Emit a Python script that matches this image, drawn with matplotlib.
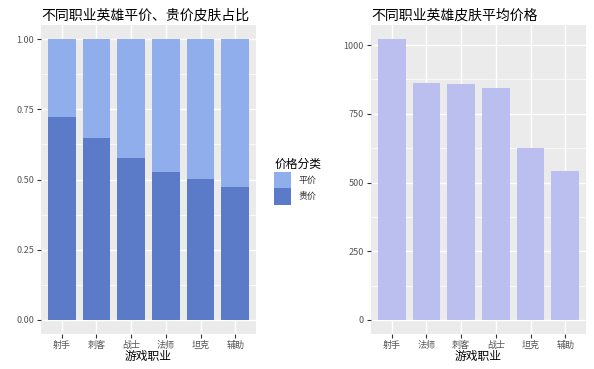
import matplotlib
matplotlib.use("Agg")
import matplotlib.pyplot as plt
from matplotlib.patches import Patch
import numpy as np

plt.rcParams['font.family'] = ['Noto Sans CJK SC', 'DejaVu Sans']

# ---- data ----
roles_left = ["射手", "刺客", "战士", "法师", "坦克", "辅助"]
expensive_share = [0.722, 0.647, 0.578, 0.526, 0.502, 0.473]   # 贵价
cheap_share = [1 - v for v in expensive_share]                  # 平价

roles_right = ["射手", "法师", "刺客", "战士", "坦克", "辅助"]
avg_price = [1022, 862, 860, 843, 625, 541]

title_left = "不同职业英雄平价、贵价皮肤占比"
title_right = "不同职业英雄皮肤平均价格"
xlabel = "游戏职业"
legend_title = "价格分类"
legend_labels = ["平价", "贵价"]

# ---- style ----
W, H = 594, 369
fig = plt.figure(figsize=(W / 100, H / 100), dpi=100)
bg = "#EBEBEB"
c_cheap = "#8FAEEB"
c_exp = "#5B7BC9"
c_right = "#BBBFEF"
tick_col = "#555555"

def px_axes(x0, y0, x1, y1):
    return fig.add_axes([x0 / W, 1 - y1 / H, (x1 - x0) / W, (y1 - y0) / H])

def style(ax):
    ax.set_facecolor(bg)
    for s in ax.spines.values():
        s.set_visible(False)
    ax.grid(True, which="major", color="white", linewidth=1.0)
    ax.grid(True, which="minor", axis="y", color="white", linewidth=0.5)
    ax.set_axisbelow(True)
    ax.tick_params(axis="both", which="major", length=3, width=0.8, color="#333333",
                   labelsize=6.5, labelcolor=tick_col, pad=2)
    ax.tick_params(axis="both", which="minor", length=0)

# left
ax1 = px_axes(41, 25, 256, 334)
style(ax1)
x = np.arange(len(roles_left))
ax1.bar(x, expensive_share, width=0.8, color=c_exp, zorder=2)
ax1.bar(x, cheap_share, bottom=expensive_share, width=0.8, color=c_cheap, zorder=2)
ax1.set_xlim(-0.6, len(roles_left) - 0.4)
ax1.set_ylim(-0.05, 1.05)
ax1.set_xticks(x)
ax1.set_xticklabels(roles_left)
ax1.set_yticks([0, 0.25, 0.5, 0.75, 1.0])
ax1.set_yticklabels(["0.00", "0.25", "0.50", "0.75", "1.00"])
ax1.set_yticks([0.125, 0.375, 0.625, 0.875], minor=True)
ax1.set_xlabel(xlabel, fontsize=8.5, labelpad=0)
ax1.set_title(title_left, fontsize=10, loc="left", pad=4)

# right
ax2 = px_axes(371, 25, 586, 334)
style(ax2)
x2 = np.arange(len(roles_right))
ax2.bar(x2, avg_price, width=0.8, color=c_right, zorder=2)
ax2.set_xlim(-0.6, len(roles_right) - 0.4)
ymax = max(avg_price)
ax2.set_ylim(-0.05 * ymax, 1.05 * ymax)
ax2.set_xticks(x2)
ax2.set_xticklabels(roles_right)
ax2.set_yticks([0, 250, 500, 750, 1000])
ax2.set_yticks([125, 375, 625, 875], minor=True)
ax2.set_xlabel(xlabel, fontsize=8.5, labelpad=0)
ax2.set_title(title_right, fontsize=10, loc="left", pad=4)

# legend
handles = [Patch(facecolor=c_cheap, label=legend_labels[0]),
           Patch(facecolor=c_exp, label=legend_labels[1])]
leg = fig.legend(handles=handles, title=legend_title, loc="upper left",
                 bbox_to_anchor=(266 / W, 1 - 150 / H), frameon=False,
                 fontsize=6.5, title_fontsize=8.5, handlelength=1.9, handleheight=2.4,
                 labelspacing=0.05, handletextpad=0.8, alignment="left")
for t in leg.get_texts():
    t.set_color("#333333")

fig.savefig("out.png", dpi=100)
